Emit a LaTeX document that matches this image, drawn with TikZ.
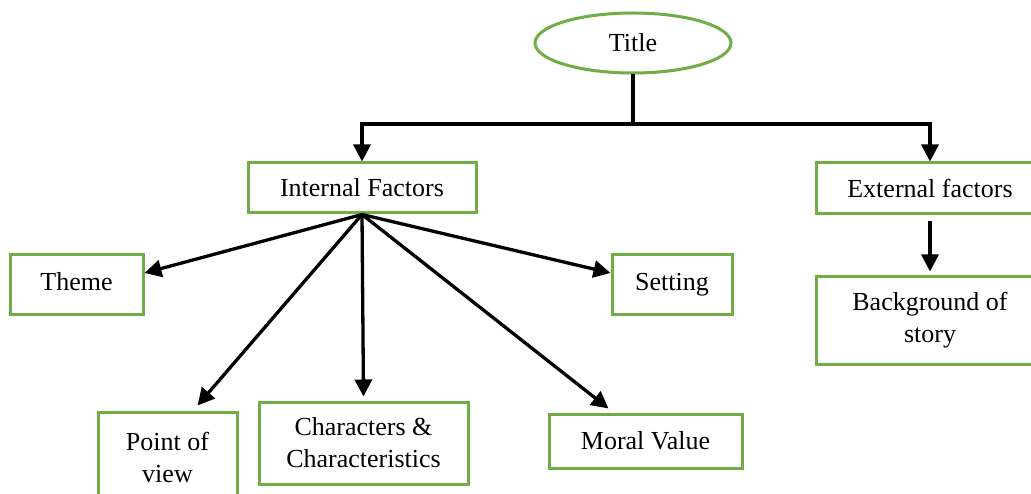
\documentclass[tikz,border=0pt]{standalone}
\usepackage{fontspec}
\setmainfont{Liberation Serif}
\usetikzlibrary{arrows.meta,shapes.geometric}
\definecolor{leaf}{RGB}{112,173,71}
\begin{document}
\begin{tikzpicture}[x=1pt,y=-1pt,
  box/.style={draw=leaf,line width=3pt,align=center,inner sep=0pt,
    font=\fontsize{26}{32}\selectfont},
  raised/.style={text depth=7pt},
  link/.style={line width=3.3pt,-{Triangle[length=17pt,width=17pt]}},
  plain/.style={line width=3.3pt}]
\clip (0,0) rectangle (1031,494);
\fill[white] (0,0) rectangle (1031,494);

% top level
\node[box,ellipse,minimum width=196pt,minimum height=60pt] (title) at (633,43) {Title};
\node[box,minimum width=228pt,minimum height=50pt] (internal) at (362,188) {Internal Factors};
\node[box,minimum width=228pt,minimum height=51pt] (external) at (930,188.5) {External factors};
\node[box,minimum width=228pt,minimum height=87pt] (background) at (930,320.5) {Background of\\story};

% elements of the story
\node[box,raised,minimum width=133pt,minimum height=60pt] (theme) at (76.5,285) {Theme};
\node[box,raised,minimum width=120pt,minimum height=60pt] (setting) at (672,285) {Setting};
\node[box,minimum width=139pt,minimum height=90pt] (pov) at (167.5,457) {Point of\\view};
\node[box,minimum width=209pt,minimum height=82pt] (chars) at (363.5,443) {Characters \&\\Characteristics};
\node[box,minimum width=193pt,minimum height=54pt] (moral) at (645.5,441) {Moral Value};

% bus from the title
\coordinate (bus) at (0,124);
\draw[plain] (title.south) -- (title.south |- bus);
\draw[link] (title.south |- bus) -| (internal.north);
\draw[link] (title.south |- bus) -| (external.north);
\draw[link] ([yshift=-6pt]external.south) -- ([yshift=4pt]background.north);

% fan-out from internal factors
\draw[link] (internal.south) -- ([yshift=12pt]theme.east);
\draw[link] (internal.south) -- ([yshift=12pt]setting.west);
\draw[link] (internal.south) -- ([xshift=30pt,yshift=5pt]pov.north);
\draw[link] (internal.south) -- ([yshift=4pt]chars.north);
\draw[link] (internal.south) -- ([xshift=-37pt,yshift=4pt]moral.north);
\end{tikzpicture}
\end{document}
